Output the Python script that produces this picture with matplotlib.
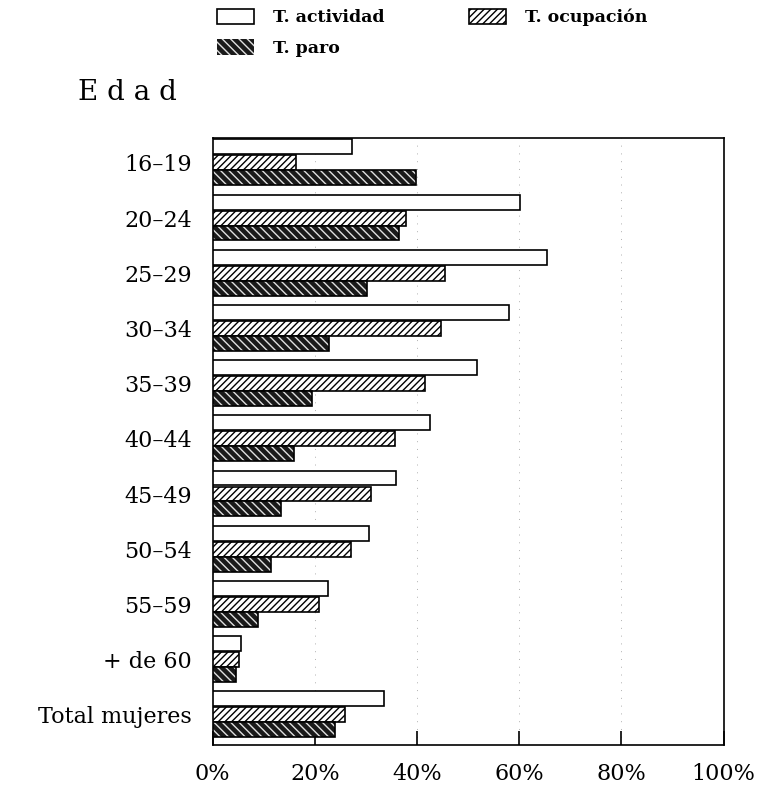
import matplotlib.pyplot as plt
import numpy as np

plt.rcParams['font.family'] = ['DejaVu Serif', 'Liberation Serif']

# edades y tasas (%)
edades = ['16–19', '20–24', '25–29', '30–34', '35–39', '40–44',
          '45–49', '50–54', '55–59', '+ de 60', 'Total mujeres']
actividad = [27.3, 60.2, 65.5, 58.0, 51.8, 42.5, 35.9, 30.6, 22.5, 5.5, 33.6]
ocupacion = [16.3, 37.8, 45.5, 44.7, 41.6, 35.7, 31.0, 27.0, 20.8, 5.1, 25.8]
paro = [39.8, 36.5, 30.2, 22.7, 19.4, 16.0, 13.3, 11.4, 8.9, 4.5, 24.0]
xticks = [0, 20, 40, 60, 80, 100]

fig = plt.figure(figsize=(7.57, 7.91), dpi=100)
ax = fig.add_axes([0.281, 0.058, 0.675, 0.7675])

y = np.arange(len(edades))
h = 0.27

b1 = ax.barh(y - 0.29, actividad, height=h, color='white', edgecolor='black',
             linewidth=1.2, zorder=3)
b2 = ax.barh(y, ocupacion, height=h, color='white', edgecolor='black',
             hatch='/////', linewidth=1.2, zorder=3)
b3 = ax.barh(y + h, paro, height=h, color='#1a1a1a', edgecolor='#e0e0e0',
             hatch='\\\\\\\\', linewidth=0, zorder=3)
# contorno negro para el paro
ax.barh(y + h, paro, height=h, fill=False, edgecolor='black', linewidth=1.2, zorder=4)

ax.set_xlim(0, 100)
ax.set_ylim(len(edades) - 0.45, -0.45)
ax.set_yticks(y)
ax.set_yticklabels(edades, fontsize=16)
ax.set_xticks(xticks)
ax.set_xticklabels([f'{v}%' for v in xticks], fontsize=16)
ax.tick_params(axis='y', length=0, pad=15)
ax.tick_params(axis='x', direction='in', length=10, width=1.2, pad=13)
for s in ax.spines.values():
    s.set_linewidth(1.2)
ax.grid(axis='x', linestyle=(0, (1, 7)), color='#b0b0b0', linewidth=0.7, zorder=0)

fig.text(0.103, 0.873, 'E d a d', fontsize=20)

# leyenda
fig.legend([b1, b3, b2], ['T. actividad', 'T. paro', 'T. ocupación'],
           ncol=2, loc='upper left', bbox_to_anchor=(0.287, 0.989),
           frameon=False, prop={'size': 12.5, 'weight': 'bold'},
           borderpad=0, borderaxespad=0,
           handlelength=2.1, handleheight=1.0, handletextpad=1.1,
           columnspacing=4.9, labelspacing=0.75)

fig.savefig('out.png', dpi=100)
